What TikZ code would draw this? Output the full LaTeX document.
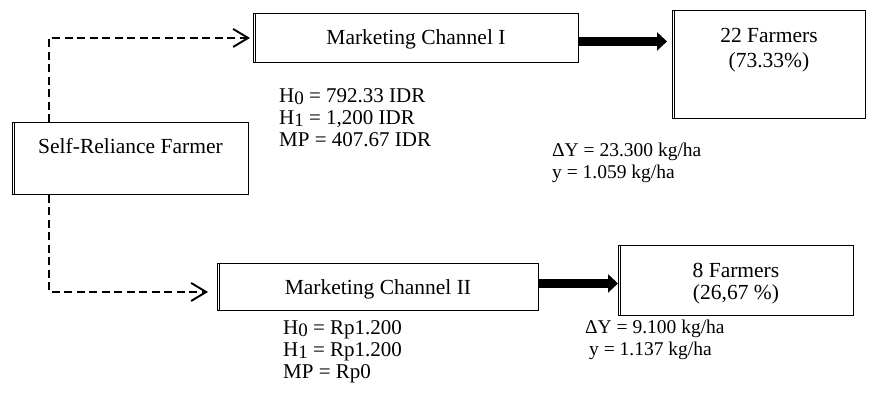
\documentclass[tikz,border=0pt]{standalone}
\usepackage{fontspec}
\setmainfont{Liberation Serif}
\usetikzlibrary{arrows.meta}

\newcommand{\idx}[1]{\raisebox{-0.2ex}{\fontsize{19}{19}\selectfont #1}}

\begin{document}
\begin{tikzpicture}[x=1pt, y=-1pt,
  box/.style={draw, line width=0.9pt, inner sep=0pt, align=center, anchor=north west,
    font=\fontsize{21.5}{25}\selectfont,
    append after command={([xshift=2.6pt]\tikzlastnode.north west) edge[line width=0.9pt] ([xshift=2.6pt]\tikzlastnode.south west)}},
  note/.style={anchor=west, inner sep=0pt, align=left, font=\fontsize{21}{22}\selectfont},
  yieldnote/.style={note, font=\fontsize{19.5}{21.5}\selectfont},
  dasharrow/.style={line width=1.9pt, dash pattern=on 8pt off 4.5pt,
    -{Straight Barb[length=15pt, width=18pt, line width=1.9pt]}},
  fatarrow/.style={line width=8.5pt, -{Triangle[length=10pt, width=18pt]}}]
  \useasboundingbox (0,0) rectangle (874,392);

  % Petani
  \node[box, minimum width=236pt, text height=31pt, text depth=41pt] (farmer) at (12,122) {Self-Reliance Farmer};

  % Saluran I
  \node[box, minimum width=325pt, text height=31pt, text depth=18pt] (chanI) at (253,13) {Marketing Channel I};
  \node[box, minimum width=193pt, text height=57pt, text depth=51pt] (groupI) at (672,10) {22 Farmers\\(73.33\%)};
  \node[note] (statsI) at (279,118) {H\idx{0} = 792.33 IDR\\H\idx{1} = 1,200 IDR\\MP = 407.67 IDR};
  \node[yieldnote] (yieldI) at (552,163) {ΔY = 23.300 kg/ha\\y = 1.059 kg/ha};

  % Saluran II
  \node[box, minimum width=321pt, text height=31pt, text depth=16pt] (chanII) at (217,263) {Marketing Channel II};
  \node[box, minimum width=235pt, text height=54pt, text depth=16pt] (groupII) at (618,245) {8 Farmers\\[-3pt](26,67 \%)};
  \node[note] (statsII) at (283,352) {H\idx{0} = Rp1.200\\H\idx{1} = Rp1.200\\MP = Rp0};
  \node[yieldnote] (yieldII) at (585,340) {ΔY = 9.100 kg/ha\\\hspace*{4pt}y = 1.137 kg/ha};

  % Panah
  \coordinate (trunk) at (49,0);
  \draw[dasharrow, shorten >=3pt] (trunk |- farmer.north) |- (chanI.west);
  \draw[dasharrow, shorten >=9pt] (trunk |- farmer.south) |- ([yshift=-5pt]chanII.west);

  \coordinate (outI) at ([yshift=-3.5pt]chanI.east);
  \coordinate (outII) at ([yshift=3.5pt]chanII.east);
  \draw[fatarrow, shorten >=5pt] (outI) -- (outI -| groupI.west);
  \draw[fatarrow] (outII) -- (outII -| groupII.west);
\end{tikzpicture}
\end{document}
